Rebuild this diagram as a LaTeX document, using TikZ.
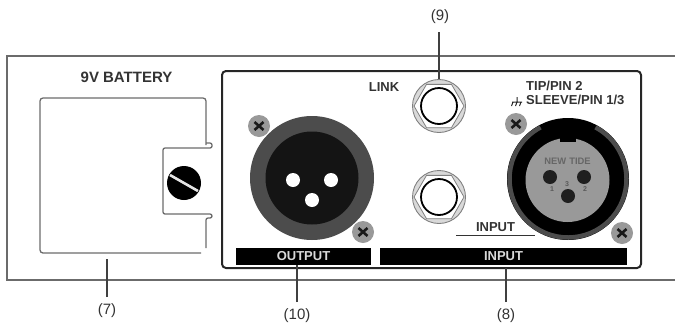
\documentclass[tikz,border=0pt]{standalone}
\usepackage{fontspec}
\setmainfont{Liberation Sans}
\usetikzlibrary{positioning,shapes.geometric}
\definecolor{panelline}{gray}{0.42}
\definecolor{doorline}{gray}{0.42}
\definecolor{ringgray}{gray}{0.3}
\definecolor{screwgray}{gray}{0.6}
\definecolor{discgray}{gray}{0.6}
\definecolor{labelgray}{gray}{0.2}
\tikzset{x=1pt,y=-1pt,
    caption/.style={font=\fontsize{15}{15}\selectfont,text=labelgray,inner sep=0pt},
    legend/.style={font=\bfseries\fontsize{13}{13}\selectfont,text=labelgray,inner sep=0pt},
    barlabel/.style={font=\bfseries\fontsize{13}{13}\selectfont,text=white!85!black,inner sep=0pt},
    blackbar/.style={fill=black,draw=none,inner sep=0pt},
    pin/.style={circle,fill=white,draw=none,minimum size=14pt,inner sep=0pt},
    darkpin/.style={circle,fill=black!88,draw=none,minimum size=14pt,inner sep=0pt},
    pinnumber/.style={font=\bfseries\fontsize{7}{7}\selectfont,text=black!65,inner sep=0pt},
    leader/.style={draw=black!75,line width=1.1pt},
    screwhead/.style={circle,fill=screwgray,draw=none,minimum size=22pt,inner sep=0pt},
    jackouter/.style={circle,fill=black!15,draw=black!50,line width=.9pt,minimum size=53pt,inner sep=0pt},
    jackhex/.style={regular polygon,regular polygon sides=6,fill=white,draw=black!50,line width=.8pt,minimum size=50pt,inner sep=0pt},
    jackhole/.style={circle,fill=white,draw=black,line width=1.8pt,minimum size=36pt,inner sep=0pt},
}
\newcommand{\screwmark}[1]{%
    \draw[black!90,line width=2.6pt] ([shift={(-4.5,-4)}]#1.center) -- ([shift={(4.5,4)}]#1.center);
    \draw[black!90,line width=2.6pt] ([shift={(4.5,-4)}]#1.center) -- ([shift={(-4.5,4)}]#1.center);
}
\begin{document}
\begin{tikzpicture}
    \useasboundingbox (0,0) rectangle (675,322);
    % panel
    \draw[panelline,line width=1.2pt] (675,56) -- (7,56) -- (7,280) -- (675,280);
    % battery door
    \draw[doorline,line width=1.3pt,rounded corners=3pt] (201,253) -- (40,253) -- (40,98) -- (206,98) -- (206,145);
    \draw[doorline,line width=1.3pt,rounded corners=2pt] (206,143) -- (212,143) -- (212,148) -- (163,148) -- (163,214) -- (212,214) -- (212,218) -- (206,218) -- (206,248);
    \node[circle,fill=black,minimum size=34pt,inner sep=0pt] (doorscrew) at (184,183) {};
    \draw[white!90!black,line width=2.6pt] ([shift={(-14,-8)}]doorscrew.center) -- ([shift={(14,8)}]doorscrew.center);
    \node[legend,font=\bfseries\fontsize{15}{15}\selectfont] (battery) at (126.5,77) {9V BATTERY};
    % connector area
    \draw[black!85,line width=2pt,rounded corners=4pt] (222,71) rectangle (641,268);
    \node[blackbar,minimum width=135pt,minimum height=16.5pt] (outputbar) at (303.5,256.5) {};
    \node[barlabel] (outputtext) at (303.5,256.5) {OUTPUT};
    \node[blackbar,minimum width=247pt,minimum height=16.5pt] (inputbar) at (503.5,256.5) {};
    \node[barlabel] (inputtext) at (503.5,256.5) {INPUT};
    % output socket
    \node[circle,fill=ringgray,minimum size=124pt,inner sep=0pt] (xlrout) at (312,178) {};
    \node[circle,fill=black!92,minimum size=93pt,inner sep=0pt] (xlroutin) at (312,178) {};
    \node[pin] (outa) at (293,180) {};
    \node[pin] (outb) at (331,180) {};
    \node[pin] (outc) at (312,200) {};
    \node[screwhead] (screwa) at (259,126) {};
    \screwmark{screwa}
    \node[screwhead] (screwb) at (363,232) {};
    \screwmark{screwb}
    % jacks
    \node[jackouter] (linkouter) at (439,106) {};
    \node[jackhex] (linkhex) at (439,106) {};
    \node[jackhole] (linkhole) at (439,106) {};
    \node[jackouter] (inputouter) at (439,197) {};
    \node[jackhex] (inputhex) at (439,197) {};
    \node[jackhole] (inputhole) at (439,197) {};
    \node[legend] (link) at (384,87) {LINK};
    \node[legend] (inputname) at (495.5,227) {INPUT};
    \coordinate (rulea) at (456,235);
    \coordinate (ruleb) at (535,235);
    \draw[black!80,line width=1pt] (rulea) -- (ruleb);
    % input socket
    \node[circle,fill=black,minimum size=122pt,inner sep=0pt] (xlrin) at (568,179) {};
    \draw[ringgray,line width=4.5pt] (568,179) ++(298:58.5) arc[start angle=298,end angle=602,radius=58.5];
    \node[circle,fill=discgray,minimum size=84pt,inner sep=0pt] (xlrdisc) at (567.5,180) {};
    \fill[black] (560,130) rectangle (576,142);
    \node[font=\bfseries\fontsize{9.4}{9.4}\selectfont,text=black!60,inner sep=0pt] (newtide) at (567.5,161) {NEW\hspace{3pt}TIDE};
    \node[darkpin] (ina) at (550,177) {};
    \node[darkpin] (inb) at (584,177) {};
    \node[darkpin] (inc) at (568,196) {};
    \node[pinnumber] (numa) at (552,189) {1};
    \node[pinnumber] (numc) at (567,184) {3};
    \node[pinnumber] (numb) at (585,189) {2};
    \node[screwhead] (screwc) at (516,124) {};
    \screwmark{screwc}
    \node[screwhead] (screwd) at (622,233) {};
    \screwmark{screwd}
    \node[legend,anchor=west] (tip) at (526,86) {TIP/PIN 2};
    \node[legend,anchor=west] (sleeve) at (526,100) {SLEEVE/PIN 1/3};
    % ground mark
    \draw[black!85,line width=1pt] (517,97) -- (517,102) (512,102) -- (522,102) (513,102) -- (511.5,106) (517,102) -- (515.5,106) (521,102) -- (519.5,106);
    % leaders
    \node[caption] (nine) at (440,17) {(9)};
    \node[caption] (seven) at (107,311) {(7)};
    \node[caption] (ten) at (297,316) {(10)};
    \node[caption] (eight) at (506,316) {(8)};
    \coordinate (sevenend) at (107,259);
    \draw[leader] (439,32) -- (linkouter.north);
    \draw[leader] (107,297) -- (sevenend);
    \draw[leader] (297,302) -- (outputbar.south -| ten.north);
    \draw[leader] (506,302) -- (506,268);
\end{tikzpicture}
\end{document}
